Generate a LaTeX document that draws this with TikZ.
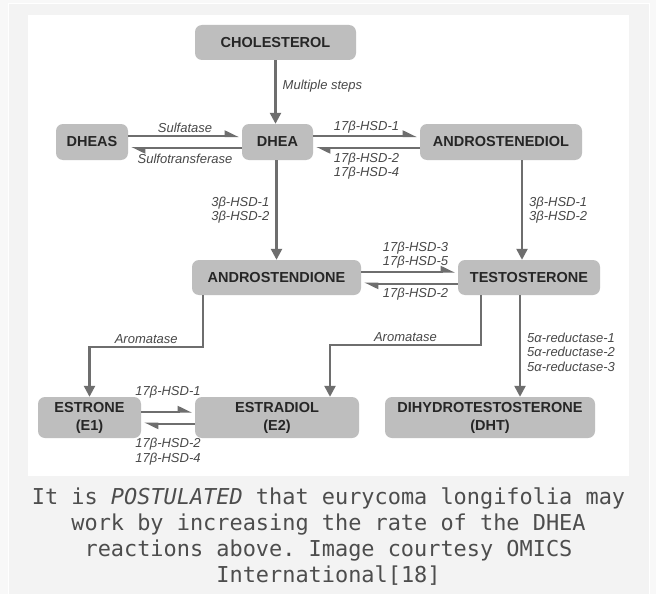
\documentclass[tikz,border=0pt]{standalone}
\usepackage{fontspec}
\setmainfont{Liberation Sans}
\setmonofont{DejaVu Sans Mono}
\usetikzlibrary{arrows.meta, positioning, calc}
\definecolor{boxgray}{HTML}{BEBEBE}
\definecolor{arrowgray}{HTML}{6E6E6E}
\definecolor{labelgray}{HTML}{484848}
\definecolor{capgray}{HTML}{4D4D4D}
\definecolor{pagegray}{HTML}{F8F8F8}
\definecolor{framegray}{HTML}{F3F3F3}
\tikzset{
    box/.style={fill=boxgray, rounded corners=7pt, align=center, text=black!85, inner sep=0pt, minimum height=35pt, font=\fontsize{14.5}{18}\selectfont\bfseries},
    arrow/.style={-{Triangle[width=11pt,length=11pt]}, line width=2.4pt, arrowgray},
    halfarrow/.style={-{Triangle[left,width=11pt,length=12pt]}, line width=2pt, arrowgray, shorten >=3pt},
    enzyme/.style={font=\fontsize{13}{14.5}\selectfont\itshape, text=labelgray, inner sep=2pt, align=center},
    caption/.style={font=\ttfamily\fontsize{21.9}{26}\selectfont, text=capgray, align=center, inner sep=0pt, anchor=north}
}

\begin{document}
\begin{tikzpicture}[x=1pt, y=-1pt]
    \useasboundingbox (0,0) rectangle (656,594);
    \fill[pagegray] (0,0) rectangle (656,594);
    \filldraw[fill=framegray, draw=white, line width=1pt] (8,4) rectangle (649,600);
    \fill[white] (28,15) rectangle (629,476);

    % steroid boxes
    \node [box, minimum width=161pt] (chol) at (275.5,42.5) {CHOLESTEROL};
    \node [box, minimum width=72pt, minimum height=36pt] (dheas) at (92,142) {DHEAS};
    \node [box, minimum width=71pt, minimum height=36pt] (dhea) at (277.5,142) {DHEA};
    \node [box, minimum width=162pt, minimum height=36pt] (adiol) at (501,142) {ANDROSTENEDIOL};
    \node [box, minimum width=169pt] (adione) at (276.5,277.5) {ANDROSTENDIONE};
    \node [box, minimum width=142pt] (testo) at (529,277.5) {TESTOSTERONE};
    \node [box, minimum width=103pt, minimum height=41pt] (estrone) at (89.5,417.5) {ESTRONE\\(E1)};
    \node [box, minimum width=164pt, minimum height=41pt] (estradiol) at (277,417.5) {ESTRADIOL\\(E2)};
    \node [box, minimum width=210pt, minimum height=41pt] (dht) at (490,417.5) {DIHYDROTESTOSTERONE\\(DHT)};

    % reactions
    \draw [arrow] (chol.south) -- (chol.south |- dhea.north) node [enzyme, right, pos=0.4, xshift=4pt] {Multiple steps};

    \draw [halfarrow] ([yshift=6pt]dheas.east) -- ([yshift=6pt]dheas.east -| dhea.west) node [enzyme, above, midway] {Sulfatase};
    \draw [halfarrow] ([yshift=-6pt]dhea.west) -- ([yshift=-6pt]dhea.west -| dheas.east) node [enzyme, below, midway, yshift=-3pt] {Sulfotransferase};

    \draw [halfarrow] ([yshift=6pt]dhea.east) -- ([yshift=6pt]dhea.east -| adiol.west) node [enzyme, above, midway] {17β-HSD-1};
    \draw [halfarrow] ([yshift=-6pt]adiol.west) -- ([yshift=-6pt]adiol.west -| dhea.east) node [enzyme, below, midway, yshift=-2pt] {17β-HSD-2\\17β-HSD-4};

    \draw [arrow] (adione.north |- dhea.south) -- (adione.north) node [enzyme, left, midway, align=right, xshift=-4pt] {3β-HSD-1\\3β-HSD-2};
    \draw [arrow] ([xshift=-7pt]testo.north |- adiol.south) -- ([xshift=-7pt]testo.north) node [enzyme, right, midway, align=left, xshift=4pt] {3β-HSD-1\\3β-HSD-2};

    \draw [halfarrow] ([yshift=6pt]adione.east) -- ([yshift=6pt]adione.east -| testo.west) node [enzyme, above, midway, xshift=6pt] {17β-HSD-3\\17β-HSD-5};
    \draw [halfarrow] ([yshift=-6pt]testo.west) -- ([yshift=-6pt]testo.west -| adione.east) node [enzyme, below, midway, xshift=6pt, yshift=-2pt] {17β-HSD-2};

    \draw [arrow] ([xshift=-73.5pt]adione.south) -- ++(0,52) -| (estrone.north) node [enzyme, above, pos=0.25] {Aromatase};
    \draw [arrow] ([xshift=-48pt]testo.south) -- ++(0,50) -| ([xshift=53pt]estradiol.north) node [enzyme, above, pos=0.25] {Aromatase};
    \draw [arrow] ([xshift=-9pt]testo.south) -- ([xshift=-9pt]testo.south |- dht.north) node [enzyme, right, pos=0.56, align=left, xshift=4pt] {5α-reductase-1\\5α-reductase-2\\5α-reductase-3};

    \draw [halfarrow] ([yshift=6pt]estrone.east) -- ([yshift=6pt]estrone.east -| estradiol.west) node [enzyme, above, midway, yshift=10pt] {17β-HSD-1};
    \draw [halfarrow] ([yshift=-6pt]estradiol.west) -- ([yshift=-6pt]estradiol.west -| estrone.east) node [enzyme, below, midway, yshift=-12pt] {17β-HSD-2\\17β-HSD-4};

    \node [caption] (cap) at (328.5,488) {It is \textit{POSTULATED} that eurycoma longifolia may\\work by increasing the rate of the DHEA\\reactions above. Image courtesy OMICS\\International[18]};
\end{tikzpicture}
\end{document}
